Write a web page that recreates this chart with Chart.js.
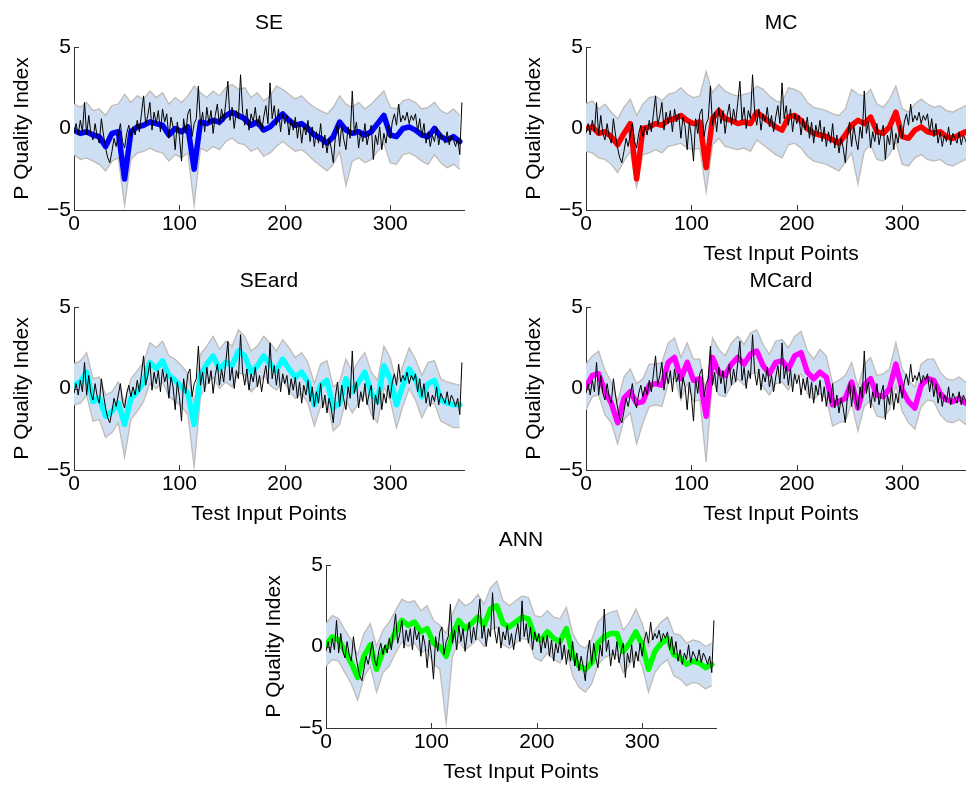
<!DOCTYPE html>
<html>
<head>
  <title>P Quality Index - model comparison</title>
  <script src="https://cdn.jsdelivr.net/npm/chart.js"></script>
  <style>
    body {
      margin: 0;
      background: #fff;
      overflow: hidden;
      width: 966px;
      height: 785px;
      position: relative;
    }
    canvas {
      position: absolute;
    }
  </style>
</head>
<body>
  <canvas id="seChart" width="470" height="270" style="left:0px;top:0px"></canvas>
  <canvas id="mcChart" width="470" height="270" style="left:512px;top:0px"></canvas>
  <canvas id="seardChart" width="470" height="270" style="left:0px;top:260px"></canvas>
  <canvas id="mcardChart" width="470" height="270" style="left:512px;top:260px"></canvas>
  <canvas id="annChart" width="470" height="270" style="left:252px;top:518px"></canvas>
  <script>
    // spacing (in test points) of the values
    const targetStep = 2;
    const modelStep = 6;

    const xTickValues = [0, 100, 200, 300];
    const yTickValues = [-5, 0, 5];

    // measured P quality index (black line, same in every panel)
    const actual = [
      -0.3, 0.3, -0.4, 0.5, -0.2, 1.6, -0.4, 0.8, -0.3, -0.7,
      0.3, -0.5, -0.9, 0.6, -0.4, -1.2, -1.8, -2.1, -1.4, -0.6,
      -1.1, -0.4, 0.3, -0.8, -1.2, -0.3, 0.2, -0.5, 0.1, -0.4,
      0.5, -0.2, 0.9, 2.0, 0.2, 0.8, 1.6, -0.1, 1.0, 0.3,
      1.1, -0.2, 1.2, 0.4, 0.9, -0.6, 0.7, 0.1, -1.3, 0.4,
      -0.5, -2.0, 0.6, -0.3, 0.9, 1.2, -0.5, 0.3, 0.6, 2.6,
      0.2, 1.0, -0.2, 1.3, 0.3, 1.1, -0.3, 0.8, 1.5, 0.2,
      1.2, 0.4, 1.6, 2.9, 0.5, 1.3, 0.0, 1.1, 0.6, 3.3,
      1.0, 0.2, 1.2, -0.1, 0.9, 0.4, 1.3, 0.1, 0.8, -0.2,
      0.7, 1.4, 0.3, 2.8, 0.6, 1.4, 0.2, 1.2, -0.2, 0.9,
      0.3, 0.8, -0.4, 0.6, -0.1, 0.7, -0.6, 0.4, -0.9, 0.2,
      -0.4, 0.5, -0.8, 0.1, -1.1, -0.2, -0.9, 0.3, -1.2, -0.4,
      -1.5, -0.6, -1.2, -2.1, -0.5, 0.4, -1.1, 0.2, -0.7, -1.3,
      0.1, -0.6, 2.3, -0.3, 0.4, -1.2, -0.2, -0.8, 0.3, -1.0,
      -0.3, 0.2, -1.9, -0.4, -1.0, 0.1, -1.3, -0.3, -0.9, 0.2,
      -0.6, 0.4, 0.9, 0.2, 1.5, 0.4, 0.8, 0.5, 1.0, 0.3,
      0.8, 0.5, 0.9, -0.2, 0.6, -0.5, 0.3, -0.9, -0.2, -1.1,
      -0.4, -0.8, 0.1, -1.0, -0.3, -0.6, -0.9, -0.2, -1.0, -0.4,
      -0.7, -1.1, -0.6, -1.6, 1.6
    ];

    // SE
    const seMean = [
      -0.1, -0.3, -0.2, -0.4, -0.5, -1.1, -0.3, -0.2, -3.1, -0.2,
      0.1, 0.2, 0.4, 0.3, 0.2, -0.4, 0.0, -0.2, 0.1, -2.5,
      0.4, 0.3, 0.5, 0.4, 0.8, 1.0, 0.8, 0.6, 0.2, 0.4,
      -0.1, 0.1, 0.5, 0.9, 0.5, 0.2, 0.3, 0.0, -0.4, -0.6,
      -0.9, -0.5, 0.4, -0.1, -0.3, -0.2, -0.4, -0.2, 0.3, 0.8,
      -0.4, -0.5, 0.0, 0.1, -0.1, -0.4, -0.5, 0.0, -0.5, -0.7,
      -0.5, -0.8
    ];
    const seUpper = [
      1.5, 1.3, 1.6, 1.1, 1.2, 0.8, 1.4, 1.5, 2.1, 1.6,
      2.0, 1.8, 2.3, 1.9, 2.2, 1.5, 1.9, 1.6, 2.0, 2.6,
      2.2, 1.9, 2.3, 2.0, 2.5, 2.7, 2.4, 2.5, 1.9, 2.2,
      1.7, 2.0, 2.6, 2.4, 2.1, 1.8, 2.0, 1.6, 1.3, 1.1,
      0.9, 1.3, 2.0, 1.5, 1.3, 1.6, 1.2, 1.5, 1.9, 2.3,
      1.3, 1.2, 1.7, 1.8, 1.6, 1.2, 1.3, 1.6, 1.1, 0.9,
      1.2, 0.8
    ];
    const seLower = [
      -1.6, -1.9, -1.8, -2.0, -2.2, -2.6, -2.0, -1.8, -4.7, -1.9,
      -1.5, -1.4, -1.2, -1.4, -1.5, -2.0, -1.6, -1.8, -1.5, -4.7,
      -1.2, -1.4, -1.1, -1.3, -0.8, -0.6, -0.9, -1.0, -1.4, -1.2,
      -1.7, -1.5, -1.1, -0.8, -1.1, -1.4, -1.3, -1.6, -2.0, -2.3,
      -2.6, -2.2, -1.4, -3.5, -2.0, -1.8, -2.1, -1.9, -1.4, -0.9,
      -2.1, -2.2, -1.6, -1.5, -1.7, -2.0, -2.2, -1.6, -2.1, -2.4,
      -2.2, -2.5
    ];

    // MC
    const mcMean = [
      0.0, 0.1, -0.3, -0.2, -0.5, -1.0, -0.3, 0.3, -3.1, 0.0,
      0.1, 0.3, 0.2, 0.5, 0.6, 0.8, 0.5, 0.3, 0.4, -2.4,
      0.6, 1.1, 0.6, 0.5, 0.3, 0.4, 0.3, 1.0, 0.7, 0.4,
      0.1, -0.1, 0.7, 0.8, 0.5, 0.0, -0.3, -0.4, -0.5, -0.7,
      -0.9, -0.4, 0.2, 0.5, 0.3, 0.7, -0.2, -0.3, 0.1, 1.0,
      -0.5, -0.6, -0.1, 0.1, -0.2, -0.3, -0.2, -0.5, -0.6, -0.4,
      -0.2, -0.5
    ];
    const mcUpper = [
      1.5, 1.7, 1.2, 1.5, 1.0, 0.6, 1.3, 1.8, 0.8, 1.5,
      1.9, 2.0, 1.7, 2.1, 2.2, 2.5, 2.1, 1.9, 2.0, 3.5,
      2.2, 2.7, 2.3, 2.1, 2.0, 2.1, 2.2, 2.6, 2.4, 2.0,
      1.7, 1.6, 2.5, 2.4, 2.2, 1.6, 1.3, 1.2, 1.1, 0.9,
      0.8, 1.2, 2.4, 2.1, 2.0, 2.4, 1.5, 1.3, 1.8, 2.6,
      1.2, 1.0, 1.5, 1.8, 1.5, 1.3, 1.4, 1.1, 1.0, 1.2,
      1.4, 1.0
    ];
    const mcLower = [
      -1.4, -1.5, -1.8, -1.9, -2.2, -2.7, -2.0, -1.4, -3.6, -1.6,
      -1.5, -1.3, -1.5, -1.1, -1.0, -0.9, -1.2, -1.3, -1.2, -3.9,
      -1.0, -0.6, -1.1, -1.2, -1.3, -1.2, -1.4, -0.7, -1.0, -1.3,
      -1.6, -1.8, -1.0, -0.9, -1.2, -1.7, -2.0, -2.1, -2.2, -2.4,
      -2.6, -2.1, -1.5, -3.4, -1.4, -1.0, -1.9, -2.0, -1.6, -0.8,
      -2.2, -2.3, -1.8, -1.6, -1.9, -2.0, -1.9, -2.2, -2.3, -2.1,
      -1.9, -2.2
    ];

    // SEard
    const seardMean = [
      0.2, 0.4, 1.0, -0.8, -0.6, -1.7, -1.4, -0.9, -2.2, -0.6,
      -0.2, 0.4, 1.6, 1.2, 1.7, 0.8, 0.5, 0.1, -0.3, -2.2,
      0.8, 1.5, 2.0, 1.2, 1.6, 1.4, 2.3, 2.0, 1.0, 1.4,
      2.0, 1.5, 1.1, 1.8, 1.2, 0.7, 1.0, 0.4, -1.0, 0.2,
      0.5, -1.2, -0.9, 0.6, -0.2, 0.4, 1.0, -0.3, -0.8, 1.4,
      0.6, -1.0, 0.2, 1.2, 0.6, -0.5, 0.3, 0.5, -0.7, -0.9,
      -1.0, -1.0
    ];
    const seardUpper = [
      1.5, 1.7, 2.2, 0.6, 0.7, -0.4, -0.2, 0.4, -0.9, 0.6,
      1.1, 1.6, 2.8, 2.5, 2.9, 2.0, 1.8, 1.4, 0.9, -0.9,
      2.1, 2.6, 3.2, 2.4, 2.9, 2.6, 3.6, 3.2, 2.3, 2.6,
      3.2, 2.8, 2.3, 3.0, 2.5, 1.9, 2.2, 1.6, 0.3, 1.5,
      1.7, 0.1, 0.4, 1.8, 1.0, 1.7, 2.2, 1.0, 0.5, 2.6,
      1.9, 0.3, 1.4, 2.5, 1.8, 0.8, 1.6, 1.7, 0.6, 0.4,
      0.3, 0.2
    ];
    const seardLower = [
      -1.0, -0.9, -0.4, -2.0, -1.9, -3.0, -2.7, -2.1, -4.2, -1.9,
      -1.4, -0.8, 0.3, 0.0, 0.4, -0.5, -0.8, -1.1, -1.6, -4.8,
      -0.5, 0.3, 0.7, 0.0, 0.4, 0.1, 1.0, 0.8, -0.2, 0.2,
      0.8, 0.2, -0.1, 0.5, -0.1, -0.6, -0.3, -0.9, -2.3, -1.1,
      -0.8, -2.6, -2.2, -0.7, -1.5, -0.9, -0.3, -1.6, -2.1, 0.1,
      -0.7, -2.4, -1.1, 0.0, -0.7, -1.8, -1.0, -0.9, -2.0, -2.2,
      -2.4, -2.4
    ];

    // MCard
    const mcardMean = [
      0.1, 0.8, 0.9, -0.2, -0.9, -2.1, -0.6, -0.2, -0.9, -0.8,
      0.2, 0.3, 0.2, 1.6, 1.9, 0.6, 1.6, 0.5, 0.6, -1.7,
      1.9, 1.0, 0.8, 1.5, 1.9, 1.5, 2.1, 2.3, 1.4, 0.9,
      1.6, 1.7, 1.2, 2.0, 2.2, 1.0, 0.6, 1.0, 0.7, -1.0,
      -0.8, -0.6, 0.4, -1.2, 0.2, 0.6, -0.4, -0.5, 0.0, 1.5,
      -0.1, -0.8, -1.2, 0.2, 0.6, 0.5, -0.3, -0.7, -0.8, -0.6,
      -0.9, -0.8
    ];
    const mcardUpper = [
      1.5, 2.0, 2.3, 1.1, 0.4, -0.8, 0.7, 1.2, 0.3, 0.6,
      1.5, 1.5, 1.6, 2.8, 3.1, 1.9, 2.8, 1.8, 1.8, -0.4,
      3.1, 2.4, 2.0, 2.8, 3.2, 2.7, 3.4, 3.6, 2.7, 2.1,
      2.9, 3.0, 2.5, 3.2, 3.5, 2.3, 1.8, 2.4, 2.0, 0.3,
      0.5, 0.8, 1.6, 0.1, 1.5, 1.9, 0.8, 0.9, 1.2, 2.8,
      1.2, 0.5, 0.1, 1.5, 1.8, 1.8, 1.0, 0.6, 0.5, 0.7,
      0.4, 0.5
    ];
    const mcardLower = [
      -1.3, -0.5, -0.4, -1.6, -2.1, -3.4, -1.9, -1.5, -3.4, -2.1,
      -1.1, -1.0, -1.1, 0.3, 0.7, -0.7, 0.3, -0.8, -0.7, -4.5,
      0.6, -0.4, -0.5, 0.2, 0.6, 0.2, 0.9, 1.0, 0.1, -0.4,
      0.3, 0.4, -0.1, 0.7, 0.9, -0.3, -0.7, -0.3, -0.6, -2.3,
      -2.1, -2.0, -0.9, -2.6, -1.1, -0.7, -1.7, -1.8, -1.3, 0.2,
      -1.4, -2.1, -2.5, -1.1, -0.7, -0.8, -1.6, -2.0, -2.1, -1.9,
      -2.2, -2.1
    ];

    // ANN
    const annMean = [
      0.1, 0.6, 0.4, -0.3, -1.0, -1.9, -0.6, 0.1, -1.4, -0.3,
      0.1, 0.9, 1.6, 1.3, 1.5, 0.9, 1.1, 0.2, 0.0, -0.6,
      0.7, 1.6, 1.1, 1.4, 1.8, 1.3, 2.3, 2.5, 1.4, 1.2,
      1.5, 1.8, 1.7, 0.6, 0.4, 0.9, 0.5, 0.3, 1.1, -0.5,
      -1.2, -1.4, -1.0, 0.2, 0.6, 0.8, 0.8, -0.3, 0.2, 0.9,
      0.1, -1.4, -0.3, 0.2, 0.5, -0.5, -0.7, -1.1, -0.9, -1.0,
      -1.3, -1.1
    ];
    const annUpper = [
      1.4, 1.9, 1.7, 1.0, 0.4, -0.5, 0.8, 1.4, 0.0, 1.0,
      1.5, 2.2, 2.9, 2.7, 2.8, 2.2, 2.5, 1.6, 1.3, 0.8,
      2.0, 2.9, 2.5, 2.7, 3.2, 2.6, 3.6, 4.0, 2.8, 2.5,
      2.8, 3.1, 3.0, 1.9, 1.8, 2.2, 1.8, 1.7, 2.4, 0.8,
      0.1, -0.1, 0.4, 1.5, 1.9, 2.1, 2.2, 1.0, 1.5, 2.3,
      1.4, 0.0, 1.0, 1.5, 1.8, 0.8, 0.7, 0.2, 0.4, 0.3,
      0.0, 0.2
    ];
    const annLower = [
      -1.2, -0.8, -0.9, -1.6, -2.3, -3.3, -1.9, -1.2, -2.8, -1.6,
      -1.2, -0.4, 0.3, 0.0, 0.2, -0.4, -0.2, -1.1, -1.4, -4.7,
      -0.6, 0.3, -0.2, 0.1, 0.5, 0.0, 1.0, 1.2, 0.1, -0.1,
      0.2, 0.5, 0.4, -0.7, -0.9, -0.4, -0.8, -1.0, -0.2, -1.8,
      -2.5, -2.8, -2.3, -1.1, -0.7, -0.5, -0.5, -1.6, -1.1, -0.4,
      -1.2, -2.8, -1.6, -1.1, -0.8, -1.8, -2.0, -2.4, -2.2, -2.3,
      -2.6, -2.4
    ];

    const bandBlue = 'rgb(206, 223, 244)';
    const edgeGray = 'rgb(192, 187, 182)';
    const axisColor = '#333';

    Chart.defaults.font.family = '"Liberation Sans", Arial, Helvetica, sans-serif';
    Chart.defaults.font.size = 21;
    Chart.defaults.color = '#000';

    function toPoints(values, step) {
      return values.map((v, i) => ({ x: i * step, y: v }));
    }

    // MATLAB style tick marks pointing into the axes
    const inwardTicks = {
      id: 'inwardTicks',
      afterDraw(chart) {
        const { ctx, chartArea: a, scales: { x, y } } = chart;
        ctx.save();
        ctx.strokeStyle = axisColor;
        ctx.lineWidth = 1;
        ctx.beginPath();
        x.ticks.forEach(t => {
          const px = Math.round(x.getPixelForValue(t.value)) + 0.5;
          ctx.moveTo(px, a.bottom);
          ctx.lineTo(px, a.bottom - 5);
        });
        y.ticks.forEach(t => {
          const py = Math.round(y.getPixelForValue(t.value)) + 0.5;
          ctx.moveTo(a.left, py);
          ctx.lineTo(a.left + 5, py);
        });
        ctx.stroke();
        ctx.restore();
      }
    };

    function drawPanel(id, name, color, mean, upper, lower, showXTitle, titleGap) {
      const titlePadBottom = titleGap - 12.6;
      new Chart(document.getElementById(id), {
        type: 'line',
        data: {
          datasets: [
            { label: 'Target', data: toPoints(actual, targetStep), borderColor: '#000', borderWidth: 1, order: 0 },
            { label: name, data: toPoints(mean, modelStep), borderColor: color, borderWidth: 5.5,
              borderJoinStyle: 'round', borderCapStyle: 'round', order: 1 },
            { label: 'upper', data: toPoints(upper, modelStep), borderColor: edgeGray, borderWidth: 1.3,
              backgroundColor: bandBlue, fill: '+1', order: 3 },
            { label: 'lower', data: toPoints(lower, modelStep), borderColor: edgeGray, borderWidth: 1.3, order: 2 }
          ]
        },
        options: {
          responsive: false,
          animation: false,
          events: [],
          layout: { padding: { top: 47 - 25.2 - titlePadBottom, right: 6, bottom: 0, left: 0 } },
          elements: { point: { radius: 0 }, line: { tension: 0 } },
          plugins: {
            legend: { display: false },
            tooltip: { enabled: false },
            title: {
              display: true,
              text: name,
              fullSize: false,
              font: { size: 21, weight: 'normal' },
              padding: { top: 0, bottom: titlePadBottom }
            }
          },
          scales: {
            x: {
              type: 'linear',
              min: 0,
              max: 370,
              afterBuildTicks: s => { s.ticks = xTickValues.map(v => ({ value: v })); },
              afterFit: s => { s.height = 60; },
              grid: { display: false, drawTicks: false },
              border: { display: true, color: axisColor, width: 1 },
              ticks: { padding: 2, maxRotation: 0, autoSkip: false },
              title: { display: showXTitle, text: 'Test Input Points', padding: { top: 0, bottom: 3.4 } }
            },
            y: {
              min: -5,
              max: 5,
              afterBuildTicks: s => { s.ticks = yTickValues.map(v => ({ value: v })); },
              afterFit: s => { s.width = 74; },
              grid: { display: false, drawTicks: false },
              border: { display: true, color: axisColor, width: 1 },
              ticks: { padding: 3, callback: v => (v < 0 ? '\u2212' + Math.abs(v) : v) },
              title: { display: true, text: 'P Quality Index', padding: { top: 9.4, bottom: 0 } }
            }
          }
        },
        plugins: [inwardTicks]
      });
    }

    drawPanel('seChart', 'SE', '#0000ff', seMean, seUpper, seLower, false, 24);
    drawPanel('mcChart', 'MC', '#ff0000', mcMean, mcUpper, mcLower, true, 24);
    drawPanel('seardChart', 'SEard', '#00ffff', seardMean, seardUpper, seardLower, true, 26);
    drawPanel('mcardChart', 'MCard', '#ff00ff', mcardMean, mcardUpper, mcardLower, true, 26);
    drawPanel('annChart', 'ANN', '#00ff00', annMean, annUpper, annLower, true, 25);
  </script>
</body>
</html>
